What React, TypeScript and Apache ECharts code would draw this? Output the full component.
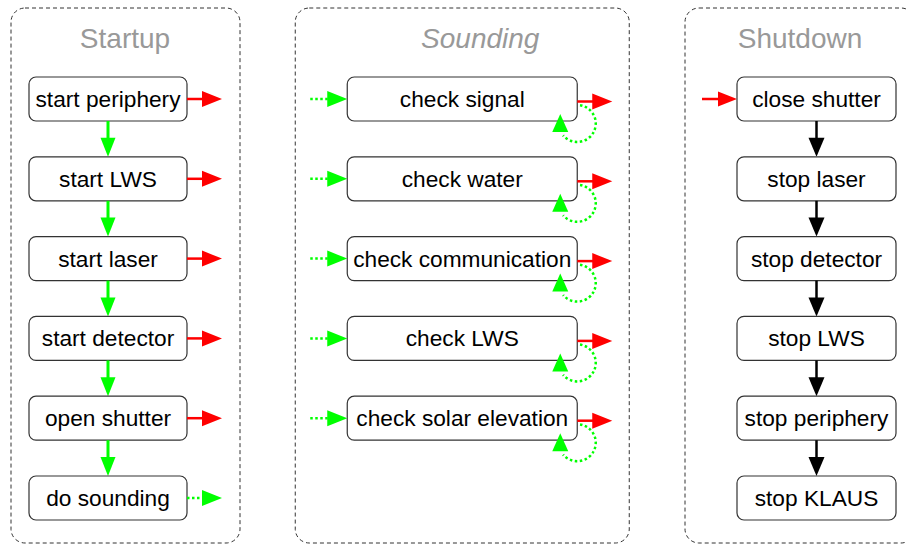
import React, { useEffect, useRef } from "react";
import * as echarts from "echarts";

const columnTitles = ["Startup", "Sounding", "Shutdown"];
const startupSteps = ["start periphery", "start LWS", "start laser", "start detector", "open shutter", "do sounding"];
const soundingSteps = ["check signal", "check water", "check communication", "check LWS", "check solar elevation"];
const shutdownSteps = ["close shutter", "stop laser", "stop detector", "stop LWS", "stop periphery", "stop KLAUS"];
const stepsByColumn = [startupSteps, soundingSteps, shutdownSteps];

// layout (not data)
const BOX_W = [158, 230, 159];
const BOX_H = 44;
const PANEL_LEFT = [-97, -167, -131.5];
const PANEL_W = [229, 334, 230];
const TITLE_DX = [17, 18, -16.5];
const RED = "#ff0000";
const GREEN = "#00ff00";
const BLACK = "#000000";
const FONT = "'Liberation Sans', Arial, Helvetica, sans-serif";

const nodeData = stepsByColumn.flatMap((steps, c) =>
  steps.map((s, r) => ({ value: [c, r, steps.length], name: s }))
);
const panelData = columnTitles.map((t, c) => ({ value: [c, 0], name: t }));

function arrow(x1: number, y1: number, x2: number, y2: number, color: string, dotted: boolean, width: number, headLen: number, headHalf: number) {
  const dx = x2 - x1, dy = y2 - y1;
  const len = Math.hypot(dx, dy);
  const ux = dx / len, uy = dy / len;
  const bx = x2 - ux * headLen, by = y2 - uy * headLen;
  return [
    {
      type: "line",
      shape: { x1, y1, x2: bx + ux * 1, y2: by + uy * 1 },
      style: { stroke: color, lineWidth: width, lineDash: dotted ? [2.5, 2.5] : null, fill: null },
    },
    {
      type: "polygon",
      shape: { points: [[x2, y2], [bx - uy * headHalf, by + ux * headHalf], [bx + uy * headHalf, by - ux * headHalf]] },
      style: { fill: color },
    },
  ];
}

export default function App() {
  const ref = useRef<HTMLDivElement>(null);
  useEffect(() => {
    if (!ref.current) return;
    const chart = echarts.init(ref.current, null, { renderer: "svg" });
    const xmin = -108 / 354.25;
    const xmax = (906 - 108) / 354.25;
    const ymin = -99 / 79.8;
    const ymax = (545 - 99) / 79.8;
    chart.setOption({
      animation: false,
      backgroundColor: "#ffffff",
      grid: { left: 0, right: 0, top: 0, bottom: 0 },
      xAxis: { type: "value", min: xmin, max: xmax, show: false },
      yAxis: { type: "value", min: ymin, max: ymax, inverse: true, show: false },
      series: [
        {
          type: "custom",
          clip: false,
          data: panelData,
          renderItem: (params: any, api: any) => {
            const c = api.value(0);
            const [cx, cy0] = api.coord([c, 0]);
            const [, cy5] = api.coord([c, 5]);
            const top = cy0 - 91;
            const bottom = cy5 + 45;
            return {
              type: "group",
              children: [
                {
                  type: "rect",
                  shape: { x: cx + PANEL_LEFT[c], y: top, width: PANEL_W[c], height: bottom - top, r: 14 },
                  style: { fill: null, stroke: "#333333", lineWidth: 1, lineDash: [4, 3] },
                },
                {
                  type: "text",
                  x: cx + TITLE_DX[c],
                  y: cy0 - 61,
                  style: {
                    text: panelData[params.dataIndex].name,
                    align: "center",
                    verticalAlign: "middle",
                    fontSize: 28,
                    fontFamily: FONT,
                    fontStyle: c === 1 ? "italic" : "normal",
                    fill: "#999999",
                  },
                },
              ],
            };
          },
        },
        {
          type: "custom",
          clip: false,
          data: nodeData,
          renderItem: (params: any, api: any) => {
            const c = api.value(0);
            const r = api.value(1);
            const n = api.value(2);
            const [cx, cy] = api.coord([c, r]);
            const [, cyNext] = api.coord([c, r + 1]);
            const w = BOX_W[c];
            const left = cx - w / 2;
            const right = cx + w / 2;
            const bottom = cy + BOX_H / 2;
            const children: any[] = [
              {
                type: "rect",
                shape: { x: left, y: cy - BOX_H / 2, width: w, height: BOX_H, r: 7 },
                style: { fill: "#ffffff", stroke: "#333333", lineWidth: 1.2 },
              },
              {
                type: "text",
                x: cx,
                y: cy,
                style: {
                  text: nodeData[params.dataIndex].name,
                  align: "center",
                  verticalAlign: "middle",
                  fontSize: 22.7,
                  fontFamily: FONT,
                  fill: "#000000",
                },
              },
            ];
            const nextTop = cyNext - BOX_H / 2;
            if (c === 0) {
              if (r < n - 1) {
                children.push(...arrow(cx, bottom, cx, nextTop, GREEN, false, 3, 19, 7.5));
                children.push(...arrow(right, cy, right + 35, cy, RED, false, 2.5, 20, 8));
              } else {
                children.push(...arrow(right, cy, right + 35, cy, GREEN, true, 2.5, 20, 8));
              }
            } else if (c === 1) {
              children.push(...arrow(left - 37, cy, left, cy, GREEN, true, 2.5, 20, 8));
              children.push(...arrow(right, cy + 2.5, right + 35, cy + 2.5, RED, false, 2.5, 20, 8));
              children.push({
                type: "arc",
                shape: { cx: right, cy: cy + 24.5, r: 18.5, startAngle: -Math.PI / 2 + 0.15, endAngle: (140 * Math.PI) / 180, clockwise: true },
                style: { stroke: GREEN, lineWidth: 2.5, lineDash: [2.5, 2.5], fill: null },
              });
              children.push({
                type: "polygon",
                shape: { points: [[right - 17, cy + 15], [right - 25, cy + 33], [right - 9, cy + 33]] },
                style: { fill: GREEN },
              });
            } else {
              if (r === 0) {
                children.push(...arrow(left - 35, cy, left, cy, RED, false, 2.5, 19, 7.5));
              }
              if (r < n - 1) {
                children.push(...arrow(cx, bottom, cx, nextTop, BLACK, false, 2.5, 19, 8));
              }
            }
            return { type: "group", children };
          },
        },
      ],
    });
    return () => chart.dispose();
  }, []);
  return <div ref={ref} style={{ position: "fixed", left: 0, top: 0, width: 906, height: 545 }} />;
}
